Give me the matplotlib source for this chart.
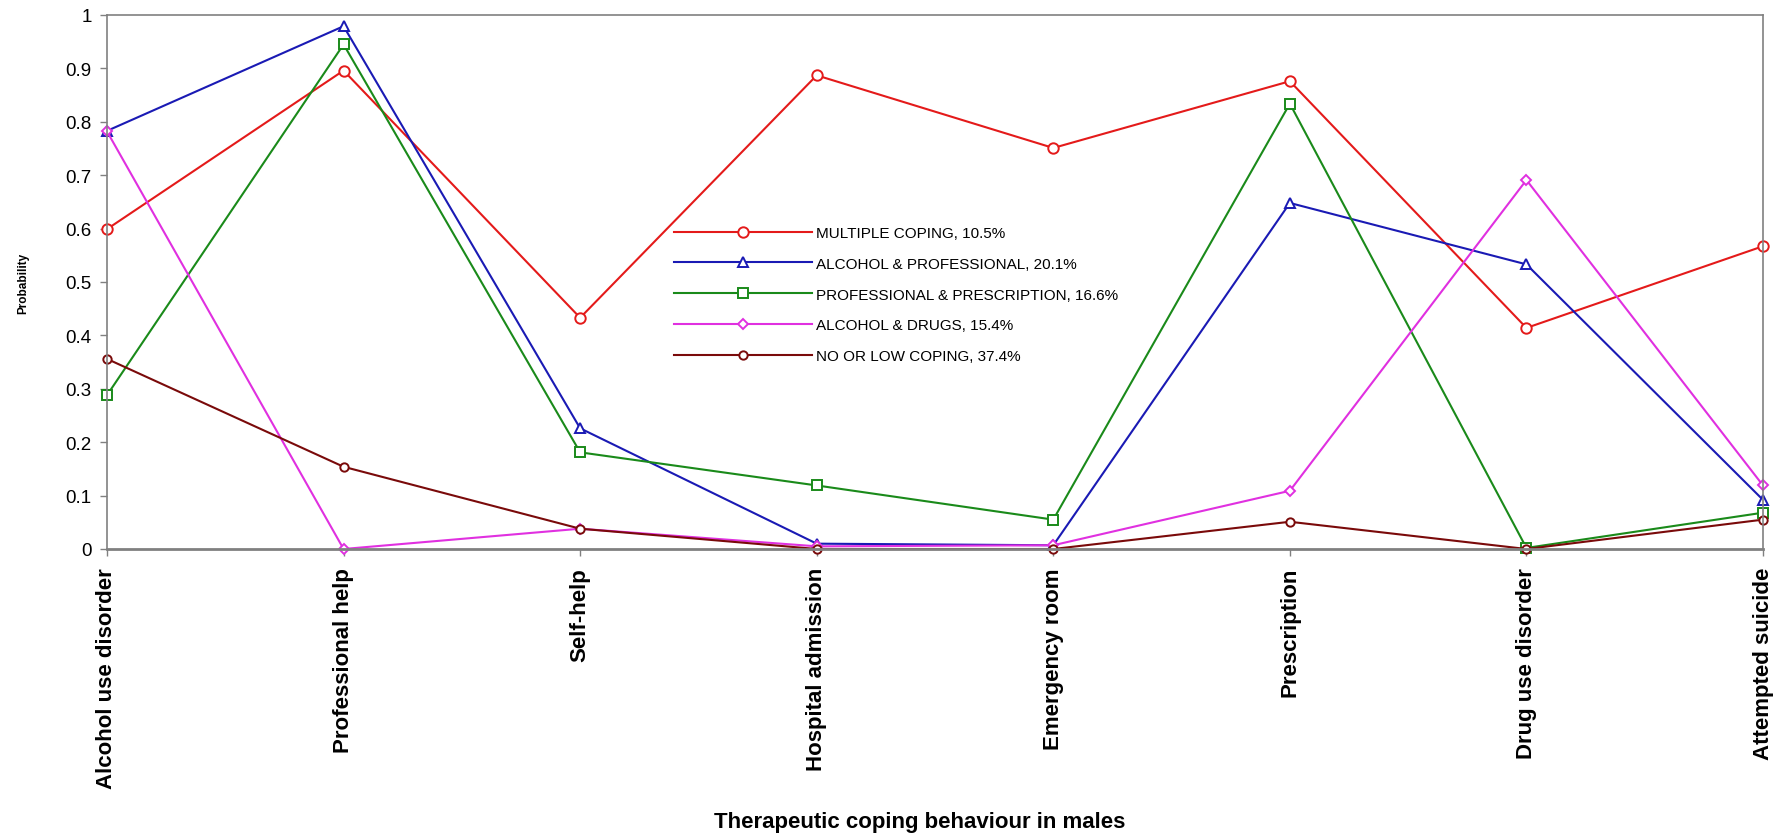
import matplotlib
matplotlib.use("Agg")
import matplotlib.pyplot as plt

plt.rcParams['font.family'] = ['Liberation Sans', 'DejaVu Sans']

categories = ["Alcohol use disorder", "Professional help", "Self-help", "Hospital admission",
              "Emergency room", "Prescription", "Drug use disorder", "Attempted suicide"]

multiple_coping = [0.599, 0.896, 0.433, 0.887, 0.751, 0.876, 0.414, 0.567]
alcohol_professional = [0.783, 0.979, 0.226, 0.010, 0.007, 0.648, 0.533, 0.092]
professional_prescription = [0.288, 0.945, 0.181, 0.119, 0.055, 0.834, 0.002, 0.068]
alcohol_drugs = [0.782, 0.0, 0.038, 0.005, 0.007, 0.109, 0.691, 0.119]
no_low_coping = [0.356, 0.154, 0.038, 0.0, 0.0, 0.051, 0.0, 0.055]

series_labels = ["MULTIPLE COPING, 10.5%", "ALCOHOL & PROFESSIONAL, 20.1%",
                 "PROFESSIONAL & PRESCRIPTION, 16.6%", "ALCOHOL & DRUGS, 15.4%",
                 "NO OR LOW COPING, 37.4%"]
y_ticks = [0, 0.1, 0.2, 0.3, 0.4, 0.5, 0.6, 0.7, 0.8, 0.9, 1]
y_tick_labels = ["0", "0.1", "0.2", "0.3", "0.4", "0.5", "0.6", "0.7", "0.8", "0.9", "1"]

series = [multiple_coping, alcohol_professional, professional_prescription, alcohol_drugs, no_low_coping]
colors = ["#e41a1a", "#1a1ab4", "#1a8a1a", "#e030e0", "#7a0a0a"]
markers = ["o", "^", "s", "D", "o"]
msizes = [7.5, 7, 7, 5.5, 6]

fig = plt.figure(figsize=(17.86, 8.37), dpi=100)
ax = fig.add_axes([107/1786, 1-550/837, (1763-107)/1786, (550-16)/837])

x = list(range(len(categories)))
for vals, c, m, ms, lab in zip(series, colors, markers, msizes, series_labels):
    ax.plot(x, vals, color=c, marker=m, markersize=ms, markerfacecolor='white',
            markeredgecolor=c, markeredgewidth=1.4, linewidth=1.5, label=lab, clip_on=False)

ax.set_xlim(0, len(categories)-1)
ax.set_ylim(0, 1)
ax.set_xticks(x)
ax.set_xticklabels(categories, rotation=90, fontsize=16, fontweight='bold')
ax.set_yticks(y_ticks)
ax.set_yticklabels(y_tick_labels, fontsize=13.5)
ax.tick_params(axis='both', direction='out', length=5, color='#808080', width=1)
ax.tick_params(axis='x', pad=8)
ax.tick_params(axis='y', pad=6)
for s in ax.spines.values():
    s.set_color('#808080')
    s.set_linewidth(1.2)
ax.spines['bottom'].set_linewidth(2)

ax.set_ylabel("Probability", fontsize=8.5, fontweight='bold')
ax.yaxis.set_label_coords(-0.047, 0.5)
fig.text(920/1786, 1-823/837, "Therapeutic coping behaviour in males", fontsize=16,
         fontweight='bold', ha='center', va='center')

ax.legend(loc='upper left', bbox_to_anchor=(674/1786, 1-227/837), bbox_transform=fig.transFigure,
          frameon=False, fontsize=11, handlelength=9.0, handletextpad=0.3, labelspacing=1.1,
          borderpad=0, borderaxespad=0, markerscale=1.0)

fig.savefig("out.png", dpi=100)
